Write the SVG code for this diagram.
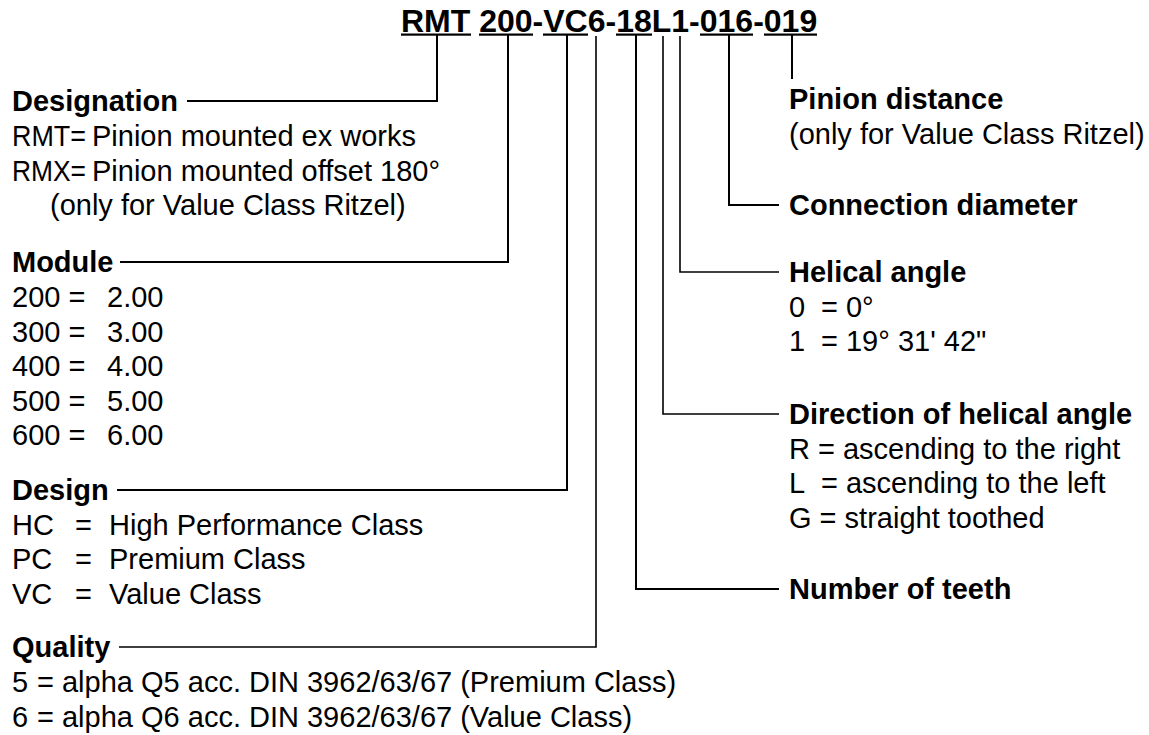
<svg xmlns="http://www.w3.org/2000/svg" width="1149" height="735" viewBox="0 0 1149 735">
<style>
text{font-family:"Liberation Sans",Arial,Helvetica,sans-serif;font-size:29px;fill:#000}
.b{font-weight:bold}
.t{font-weight:bold;font-size:32px}
.c{fill:none;stroke:#000;stroke-width:2}
.ct{fill:none;stroke:#000;stroke-width:1.6}
.u{fill:#000}
</style>
<rect width="1149" height="735" fill="#fff"/>
<g id="code">
<text class="t" x="401" y="31.5">RMT 200-VC6-18L1-016-019</text>
<rect class="u" x="401" y="33.5" width="70" height="2.2"/>
<rect class="u" x="479" y="33.5" width="54" height="2.2"/>
<rect class="u" x="543" y="33.5" width="45" height="2.2"/>
<rect class="u" x="616" y="33.5" width="36" height="2.2"/>
<rect class="u" x="700" y="33.5" width="53" height="2.2"/>
<rect class="u" x="764" y="33.5" width="53" height="2.2"/>
</g>
<g id="connectors">
<path class="c" d="M187 101H437V35"/>
<path class="c" d="M120 262H508V35"/>
<path class="c" d="M117 490H567V35"/>
<path class="ct" d="M119 647H596V36"/>
<path class="c" d="M792 35V79"/>
<path class="c" d="M729 35V205H779"/>
<path class="ct" d="M680 36V272H779"/>
<path class="ct" d="M663 36V414H779"/>
<path class="c" d="M636 35V589H779"/>
</g>
<g id="designation">
<text class="b" x="12" y="111">Designation</text>
<text x="12" y="146" textLength="74" lengthAdjust="spacingAndGlyphs">RMT=</text><text x="92" y="146">Pinion mounted ex works</text>
<text x="12" y="180.5" textLength="74" lengthAdjust="spacingAndGlyphs">RMX=</text><text x="92" y="180.5">Pinion mounted offset 180°</text>
<text x="50" y="215">(only for Value Class Ritzel)</text>
</g>
<g id="module">
<text class="b" x="12" y="272">Module</text>
<text x="12" y="307">200 =</text><text x="107" y="307">2.00</text>
<text x="12" y="341.5">300 =</text><text x="107" y="341.5">3.00</text>
<text x="12" y="376">400 =</text><text x="107" y="376">4.00</text>
<text x="12" y="410.5">500 =</text><text x="107" y="410.5">5.00</text>
<text x="12" y="445">600 =</text><text x="107" y="445">6.00</text>
</g>
<g id="design">
<text class="b" x="12" y="500">Design</text>
<text x="12" y="534.5">HC</text><text x="75" y="534.5">=</text><text x="109" y="534.5">High Performance Class</text>
<text x="12" y="569">PC</text><text x="75" y="569">=</text><text x="109" y="569">Premium Class</text>
<text x="12" y="603.5">VC</text><text x="75" y="603.5">=</text><text x="109" y="603.5">Value Class</text>
</g>
<g id="quality">
<text class="b" x="12" y="657">Quality</text>
<text x="12" y="692">5</text><text x="37" y="692">= alpha Q5 acc. DIN 3962/63/67 (Premium Class)</text>
<text x="12" y="726.5">6</text><text x="37" y="726.5">= alpha Q6 acc. DIN 3962/63/67 (Value Class)</text>
</g>
<g id="pinion-distance">
<text class="b" x="789" y="109">Pinion distance</text>
<text x="789" y="144">(only for Value Class Ritzel)</text>
</g>
<g id="connection-diameter">
<text class="b" x="789" y="215">Connection diameter</text>
</g>
<g id="helical-angle">
<text class="b" x="789" y="282">Helical angle</text>
<text x="789" y="316.5">0</text><text x="821" y="316.5">= 0°</text>
<text x="789" y="351">1</text><text x="821" y="351">= 19° 31' 42"</text>
</g>
<g id="direction">
<text class="b" x="789" y="424">Direction of helical angle</text>
<text x="789" y="458.5">R = ascending to the right</text>
<text x="789" y="493">L</text><text x="821" y="493">= ascending to the left</text>
<text x="789" y="527.5">G = straight toothed</text>
</g>
<g id="teeth">
<text class="b" x="789" y="599">Number of teeth</text>
</g>
</svg>
